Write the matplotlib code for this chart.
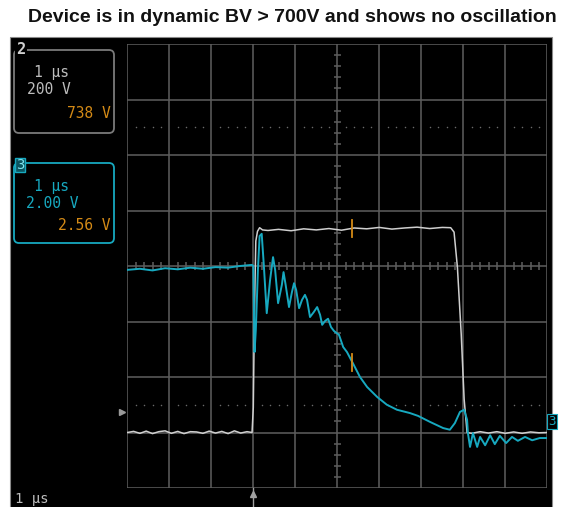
import numpy as np
import matplotlib
matplotlib.use("Agg")
import matplotlib.pyplot as plt
from matplotlib.patches import Rectangle, FancyBboxPatch

# scope settings
TIME_PER_DIV = 1.0      # us/div
CH2_V_PER_DIV = 200.0   # V/div
CH2_OFFSET_DIV = -3.0   # ch2 ground sits 3 div below centre
CH3_V_PER_DIV = 2.0     # V/div
CURSOR_T = 5.36         # us from left edge

TITLE = "Device is in dynamic BV > 700V and shows no oscillation"

# channel 2 (grey): drain voltage
ch2_t = [0.00, 0.15, 0.30, 0.45, 0.60, 0.75, 0.90, 1.05, 1.20, 1.35, 1.50, 1.65,
         1.80, 1.95, 2.10, 2.25, 2.40, 2.55, 2.70, 2.85, 2.97, 3.00, 3.03, 3.06,
         3.10, 3.15, 3.22, 3.35, 3.6, 3.9, 4.2, 4.5, 4.8, 5.1, 5.4, 5.7, 6.0, 6.3,
         6.6, 6.9, 7.2, 7.5, 7.70, 7.78, 7.86, 7.95, 8.02, 8.09, 8.2, 8.4, 8.6,
         8.8, 9.0, 9.2, 9.4, 9.6, 9.8, 10.0]
ch2_v = [0, 4, -3, 5, -4, 3, 6, -3, 4, -4, 3, 2, -3, 5, -2, 4, -4, 6, -2,
         3, 0, 90, 460, 690, 725, 738, 730, 728, 732, 727, 734, 730, 735, 729,
         737, 734, 739, 733, 737, 740, 735, 739, 738, 722, 595, 355, 120, 0, -3,
         3, -2, 3, -3, 2, -3, 2, -1, 0]

# channel 3 (cyan): gate signal
ch3_t = [0.00, 0.3, 0.6, 0.9, 1.2, 1.5, 1.8, 2.1, 2.4, 2.68, 2.97, 3.00, 3.03,
         3.06, 3.11, 3.15, 3.20, 3.25, 3.32, 3.40, 3.47, 3.52, 3.59, 3.68, 3.72,
         3.77, 3.85, 3.92, 3.97, 4.02, 4.09, 4.16, 4.23, 4.28, 4.35, 4.44, 4.52,
         4.59, 4.64, 4.71, 4.78, 4.85, 4.92, 5.04, 5.14, 5.23, 5.37, 5.54, 5.71,
         5.95, 6.18, 6.42, 6.73, 6.92, 7.21, 7.52, 7.68, 7.80, 7.92, 8.02, 8.09,
         8.11, 8.16, 8.23, 8.33, 8.40, 8.52, 8.64, 8.75, 8.87, 9.02, 9.16, 9.30,
         9.47, 9.64, 9.82, 9.99]
ch3_v = [-0.14, -0.10, -0.16, -0.08, -0.12, -0.06, -0.10, -0.04, -0.06, 0.00,
         0.04, 0.00, -3.10, -2.30, -0.14, 1.08, 1.16, 0.04, -1.70, -0.50, 0.32,
         -0.14, -1.34, -0.68, -0.22, -0.68, -1.48, -0.94, -0.62, -0.86, -1.52,
         -1.22, -1.04, -1.22, -1.84, -1.66, -1.48, -1.76, -2.12, -1.98, -1.90,
         -2.20, -2.34, -2.48, -2.92, -3.10, -3.50, -4.00, -4.36, -4.72, -5.00,
         -5.18, -5.30, -5.40, -5.62, -5.84, -5.90, -5.66, -5.26, -5.18, -5.54,
         -6.02, -6.52, -6.02, -6.52, -6.16, -6.46, -6.10, -6.42, -6.12, -6.38,
         -6.16, -6.30, -6.16, -6.28, -6.20, -6.20]

GRID = "#5e5e5e"
GREY = "#cfcfcf"
CYAN = "#17a9c0"
ORANGE = "#d48a16"
MONO = "DejaVu Sans Mono"

W, H = 565, 507
fig = plt.figure(figsize=(W / 100, H / 100), dpi=100)
fig.patch.set_facecolor("white")

# background layer in pixel coordinates: screen, channel panels, labels
bg = fig.add_axes([0, 0, 1, 1])
bg.set_xlim(0, W)
bg.set_ylim(H, 0)
bg.axis("off")
bg.add_patch(Rectangle((10, 37), 542, 480, facecolor="black",
                       edgecolor="#8a8a8a", linewidth=0.8))

bg.text(292, 17, TITLE, ha="center", va="center", fontsize=14,
        fontweight="bold", family="Liberation Sans", color="#111111")

# channel 2 panel
bg.add_patch(FancyBboxPatch((14, 50), 100, 83, boxstyle="round,pad=0,rounding_size=5",
                            facecolor="none", edgecolor="#7a7a7a", linewidth=1.3))
bg.add_patch(Rectangle((15, 42), 12, 16, facecolor="black", edgecolor="none"))
bg.text(21, 50, "2", ha="center", va="center", fontsize=11, family=MONO,
        color="#d0d0d0", fontweight="bold")
bg.text(52, 72, "1 \u00b5s", ha="center", va="center", fontsize=10.5, family=MONO, color="#bdbdbd")
bg.text(49, 89, "200 V", ha="center", va="center", fontsize=10.5, family=MONO, color="#bdbdbd")
bg.text(111, 113, f"{ch2_v[ch2_t.index(7.70)]} V", ha="right", va="center", fontsize=10.5,
        family=MONO, color=ORANGE)

# channel 3 panel
bg.add_patch(FancyBboxPatch((14, 163), 100, 80, boxstyle="round,pad=0,rounding_size=5",
                            facecolor="none", edgecolor=CYAN, linewidth=1.3))
bg.add_patch(Rectangle((15, 158), 10, 14, facecolor="#0b5560", edgecolor=CYAN, linewidth=1.0))
bg.text(20, 165, "3", ha="center", va="center", fontsize=10, family=MONO, color="#7fe6f2")
bg.text(52, 186, "1 \u00b5s", ha="center", va="center", fontsize=10.5, family=MONO, color=CYAN)
bg.text(52, 203, "2.00 V", ha="center", va="center", fontsize=10.5, family=MONO, color=CYAN)
bg.text(111, 225, "2.56 V", ha="right", va="center", fontsize=10.5, family=MONO, color=ORANGE)

bg.text(15, 506, "1 \u00b5s", ha="left", va="bottom", fontsize=10, family=MONO, color="#bdbdbd")

# graticule: 10 x 8 divisions
ax = fig.add_axes([127.3 / W, 19 / H, 420 / W, 444 / H])
ax.set_facecolor("none")
ax.set_xlim(0, 10)
ax.set_ylim(-4, 4)
ax.axis("off")

ax.vlines(np.arange(0, 11), -4, 4, color=GRID, linewidth=1.1, zorder=1)
ax.hlines(np.arange(-4, 5), 0, 10, color=GRID, linewidth=1.1, zorder=1)

minor_x = np.array([v for v in np.arange(0, 10.01, 0.2) if abs(v - round(v)) > 1e-6])
minor_y = np.array([v for v in np.arange(-4, 4.01, 0.2) if abs(v - round(v)) > 1e-6])
ax.vlines(minor_x, -0.065, 0.065, color=GRID, linewidth=1.1, zorder=1)
ax.hlines(minor_y, 5 - 0.085, 5 + 0.085, color=GRID, linewidth=1.1, zorder=1)
for yd in (-2.5, 2.5):
    ax.scatter(minor_x, np.full_like(minor_x, yd), s=1.2, color="#6a6a6a",
               linewidths=0, zorder=1)

# trigger position marker below graticule
trig_t = ch2_t[ch2_t.index(3.00)]
ax.plot([trig_t, trig_t], [-4, -4.45], color="#a0a0a0", linewidth=1.0, clip_on=False)
ax.plot([trig_t], [-4.1], marker="^", markersize=4, color="#a0a0a0", clip_on=False)
# trigger level marker on the left
ax.plot([-0.12], [-2.63], marker=">", markersize=5, color="#9a9a9a", clip_on=False)

# traces
ch2_div = np.array(ch2_v) / CH2_V_PER_DIV + CH2_OFFSET_DIV
ch3_div = np.array(ch3_v) / CH3_V_PER_DIV
t2 = np.array(ch2_t) / TIME_PER_DIV
t3 = np.array(ch3_t) / TIME_PER_DIV
ax.plot(t2, ch2_div, color=GREY, linewidth=1.1, zorder=3)
ax.plot(t3, ch3_div, color=CYAN, linewidth=1.4, zorder=4)

# cursor markers on both traces
for tt, yy in ((t2, ch2_div), (t3, ch3_div)):
    yc = np.interp(CURSOR_T, tt, yy)
    ax.plot([CURSOR_T, CURSOR_T], [yc - 0.15, yc + 0.15], color=ORANGE,
            linewidth=1.3, zorder=5)

# channel 3 level marker on the right
ax.text(10.1, ch3_div[-1] + 0.3, "3", ha="center", va="center", fontsize=9,
        family=MONO, color=CYAN, clip_on=False,
        bbox=dict(boxstyle="square,pad=0.1", facecolor="black", edgecolor=CYAN, linewidth=0.8))

fig.savefig("out.png", dpi=100)
